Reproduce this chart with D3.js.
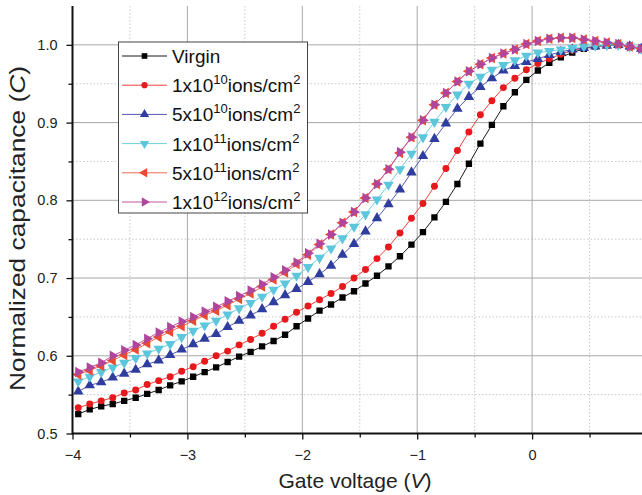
<!DOCTYPE html>
<html>
<head>
<meta charset="utf-8">
<script src="https://cdn.jsdelivr.net/npm/d3@7"></script>
<style>
  html, body { margin: 0; padding: 0; background: #fff; }
  svg { display: block; font-family: "Liberation Sans", Arial, sans-serif; }
</style>
</head>
<body>
<svg id="chart" width="642" height="495"></svg>
<script>
// ---------------- data ----------------
const voltages = [-3.95,-3.85,-3.75,-3.65,-3.55,-3.45,-3.35,-3.25,-3.15,-3.05,
                  -2.95,-2.85,-2.75,-2.65,-2.55,-2.45,-2.35,-2.25,-2.15,-2.05,
                  -1.95,-1.85,-1.75,-1.65,-1.55,-1.45,-1.35,-1.25,-1.15,-1.05,
                  -0.95,-0.85,-0.75,-0.65,-0.55,-0.45,-0.35,-0.25,-0.15,-0.05,
                   0.05, 0.15, 0.25, 0.35, 0.45, 0.55, 0.65, 0.75, 0.85, 0.95];

const virgin = [0.525,0.531,0.535,0.538,0.542,0.546,0.551,0.556,0.562,0.567,
                0.573,0.579,0.585,0.592,0.599,0.605,0.612,0.619,0.627,0.638,
                0.648,0.658,0.666,0.675,0.683,0.693,0.703,0.715,0.728,0.743,
                0.759,0.778,0.798,0.821,0.847,0.873,0.897,0.921,0.939,0.955,
                0.967,0.977,0.984,0.990,0.995,0.998,1.000,1.000,0.998,0.995];

const dose1e10 = [0.533,0.538,0.542,0.546,0.552,0.556,0.563,0.568,0.573,0.580,
                  0.586,0.593,0.600,0.606,0.614,0.621,0.629,0.638,0.647,0.656,
                  0.664,0.672,0.680,0.689,0.700,0.711,0.725,0.740,0.758,0.777,
                  0.796,0.818,0.841,0.864,0.888,0.910,0.928,0.945,0.957,0.968,
                  0.976,0.982,0.988,0.993,0.996,0.998,0.999,1.000,0.998,0.995];

const dose5e10 = [0.554,0.562,0.566,0.572,0.577,0.582,0.589,0.594,0.601,0.608,
                  0.615,0.622,0.628,0.637,0.645,0.652,0.660,0.669,0.678,0.686,
                  0.695,0.705,0.716,0.730,0.744,0.760,0.777,0.795,0.814,0.836,
                  0.857,0.879,0.899,0.918,0.933,0.946,0.957,0.967,0.973,0.978,
                  0.982,0.987,0.991,0.994,0.996,0.998,0.999,1.000,0.998,0.995];

const dose1e11 = [0.567,0.573,0.579,0.585,0.591,0.597,0.603,0.609,0.615,0.624,
                  0.632,0.639,0.645,0.653,0.661,0.668,0.676,0.685,0.693,0.703,
                  0.714,0.726,0.738,0.751,0.766,0.782,0.801,0.820,0.840,0.860,
                  0.881,0.901,0.920,0.936,0.950,0.959,0.968,0.974,0.980,0.986,
                  0.990,0.992,0.994,0.996,0.998,0.999,1.000,1.000,0.998,0.995];

const dose5e11 = [0.576,0.581,0.587,0.594,0.601,0.608,0.616,0.624,0.631,0.638,
                  0.645,0.652,0.658,0.665,0.673,0.680,0.689,0.698,0.707,0.718,
                  0.730,0.743,0.756,0.771,0.785,0.803,0.821,0.840,0.861,0.881,
                  0.903,0.923,0.938,0.953,0.966,0.975,0.983,0.989,0.994,1.001,
                  1.005,1.008,1.009,1.009,1.007,1.005,1.003,1.001,0.998,0.995];

const dose1e12 = [0.579,0.585,0.591,0.600,0.607,0.614,0.622,0.630,0.637,0.644,
                  0.650,0.657,0.663,0.670,0.677,0.684,0.692,0.701,0.710,0.720,
                  0.732,0.744,0.756,0.771,0.785,0.803,0.821,0.840,0.862,0.881,
                  0.903,0.923,0.938,0.953,0.966,0.975,0.983,0.989,0.994,1.001,
                  1.005,1.008,1.009,1.009,1.007,1.005,1.003,1.001,0.998,0.995];

const seriesNames = ["Virgin", "1x10|10|ions/cm|2", "5x10|10|ions/cm|2",
                     "1x10|11|ions/cm|2", "5x10|11|ions/cm|2", "1x10|12|ions/cm|2"];
const seriesValues = [virgin, dose1e10, dose5e10, dose1e11, dose5e11, dose1e12];

const xTicks = [-4, -3, -2, -1, 0];
const xMinorTicks = [-3.5, -2.5, -1.5, -0.5, 0.5];
const yTicks = [0.5, 0.6, 0.7, 0.8, 0.9, 1.0];
const yMinorTicks = [0.55, 0.65, 0.75, 0.85, 0.95];

// ---------------- styles ----------------
const styles = [
  {line: "#1a1a1a", fill: "#000000", symbol: d3.symbolSquare,   size: 40, rot: 0},
  {line: "#f0403a", fill: "#e8191c", symbol: d3.symbolCircle,   size: 38, rot: 0},
  {line: "#5558b0", fill: "#2f3d9e", symbol: d3.symbolTriangle, size: 48, rot: 0},
  {line: "#6fd0de", fill: "#5cc6dc", symbol: d3.symbolTriangle, size: 48, rot: 180},
  {line: "#f06a50", fill: "#ec4a2e", symbol: d3.symbolTriangle, size: 48, rot: -90},
  {line: "#c055a8", fill: "#b0469c", symbol: d3.symbolTriangle, size: 48, rot: 90}
];

// ---------------- layout ----------------
const svg = d3.select("#chart");
const W = 642, H = 495;
const x = d3.scaleLinear().domain([-4, 1]).range([72.5, 647]);
const y = d3.scaleLinear().domain([0.5, 1.05]).range([433.5, 6]);
const pLeft = x(-4), pBottom = y(0.5), pTop = y(1.05), pRight = W;

svg.append("defs").append("clipPath").attr("id", "clip")
  .append("rect").attr("x", pLeft).attr("y", pTop - 2).attr("width", pRight - pLeft).attr("height", pBottom - pTop + 2);

// grid
const grid = svg.append("g");
grid.selectAll(".vmin").data(xMinorTicks).join("line")
  .attr("x1", d => x(d)).attr("x2", d => x(d)).attr("y1", pTop).attr("y2", pBottom)
  .attr("stroke", "#c8c8c8").attr("stroke-width", 1).attr("stroke-dasharray", "1.5,2");
grid.selectAll(".hmin").data(yMinorTicks).join("line")
  .attr("x1", pLeft).attr("x2", pRight).attr("y1", d => y(d)).attr("y2", d => y(d))
  .attr("stroke", "#c8c8c8").attr("stroke-width", 1).attr("stroke-dasharray", "1.5,2");
grid.selectAll(".vmaj").data(xTicks.slice(1)).join("line")
  .attr("x1", d => x(d)).attr("x2", d => x(d)).attr("y1", pTop).attr("y2", pBottom)
  .attr("stroke", "#a8a8a8").attr("stroke-width", 1);
grid.selectAll(".hmaj").data(yTicks.slice(1)).join("line")
  .attr("x1", pLeft).attr("x2", pRight).attr("y1", d => y(d)).attr("y2", d => y(d))
  .attr("stroke", "#a8a8a8").attr("stroke-width", 1);

// series
const plot = svg.append("g").attr("clip-path", "url(#clip)");
const lineGen = d3.line().x(d => x(d[0])).y(d => y(d[1]));
seriesValues.forEach((vals, i) => {
  const st = styles[i];
  const pts = voltages.map((v, j) => [v, vals[j]]);
  const g = plot.append("g");
  g.append("path").datum(pts).attr("d", lineGen)
    .attr("fill", "none").attr("stroke", st.line).attr("stroke-width", 1);
  g.selectAll("path.m").data(pts).join("path").attr("class", "m")
    .attr("d", d3.symbol().type(st.symbol).size(st.size))
    .attr("transform", d => `translate(${x(d[0])},${y(d[1])}) rotate(${st.rot})`)
    .attr("fill", st.fill);
});

// axes
const xAxis = d3.axisBottom(x).tickValues(xTicks).tickSize(6).tickPadding(10).tickFormat(d3.format("d"));
const xAxisMinor = d3.axisBottom(x).tickValues(xMinorTicks).tickSize(4).tickFormat("");
const yAxis = d3.axisLeft(y).tickValues(yTicks).tickSize(6).tickPadding(9).tickFormat(d3.format(".1f"));
const yAxisMinor = d3.axisLeft(y).tickValues(yMinorTicks).tickSize(4).tickFormat("");

function styleAxis(g) {
  g.select(".domain").remove();
  g.selectAll(".tick line").attr("stroke", "#111").attr("stroke-width", 1.3);
  g.selectAll(".tick text").attr("fill", "#222").attr("font-size", 14.5)
    .attr("font-family", "'Liberation Sans', Arial, sans-serif");
}
svg.append("g").attr("transform", `translate(0,${pBottom})`).call(xAxisMinor).call(styleAxis);
svg.append("g").attr("transform", `translate(0,${pBottom})`).call(xAxis).call(styleAxis);
svg.append("g").attr("transform", `translate(${pLeft},0)`).call(yAxisMinor).call(styleAxis);
svg.append("g").attr("transform", `translate(${pLeft},0)`).call(yAxis).call(styleAxis);

// axis lines
svg.append("line").attr("x1", pLeft).attr("x2", pRight).attr("y1", pBottom).attr("y2", pBottom)
  .attr("stroke", "#111").attr("stroke-width", 2);
svg.append("line").attr("x1", pLeft).attr("x2", pLeft).attr("y1", pTop).attr("y2", pBottom + 1)
  .attr("stroke", "#111").attr("stroke-width", 2);

// axis titles
const xt = svg.append("text").attr("x", 355).attr("y", 488)
  .attr("text-anchor", "middle").attr("font-size", 21).attr("fill", "#222");
xt.append("tspan").text("Gate voltage (");
xt.append("tspan").attr("font-style", "italic").text("V");
xt.append("tspan").text(")");

const yt = svg.append("text").attr("transform", `translate(25,228.5) rotate(-90)`)
  .attr("text-anchor", "middle").attr("font-size", 22).attr("fill", "#222")
  .attr("textLength", 325).attr("lengthAdjust", "spacingAndGlyphs");
yt.append("tspan").text("Normalized capacitance (");
yt.append("tspan").attr("font-style", "italic").text("C");
yt.append("tspan").text(")");

// legend
const lg = svg.append("g");
lg.append("rect").attr("x", 118.5).attr("y", 42).attr("width", 189).attr("height", 171)
  .attr("fill", "#fff").attr("stroke", "#444").attr("stroke-width", 1);
seriesNames.forEach((name, i) => {
  const st = styles[i];
  const cy = 56 + i * 29.2;
  lg.append("line").attr("x1", 122).attr("x2", 167).attr("y1", cy).attr("y2", cy)
    .attr("stroke", st.line).attr("stroke-width", 1);
  lg.append("path").attr("d", d3.symbol().type(st.symbol).size(st.size * 0.8))
    .attr("transform", `translate(144.5,${cy}) rotate(${st.rot})`).attr("fill", st.fill);
  const t = lg.append("text").attr("x", 172).attr("y", cy + 7).attr("font-size", 19).attr("fill", "#111");
  const parts = name.split("|");
  if (parts.length === 1) {
    t.text(name);
  } else {
    t.append("tspan").text(parts[0]);
    t.append("tspan").attr("font-size", 13).attr("dy", -8).text(parts[1]);
    t.append("tspan").attr("dy", 8).text(parts[2]);
    t.append("tspan").attr("font-size", 13).attr("dy", -8).text(parts[3]);
  }
});
</script>
</body>
</html>
